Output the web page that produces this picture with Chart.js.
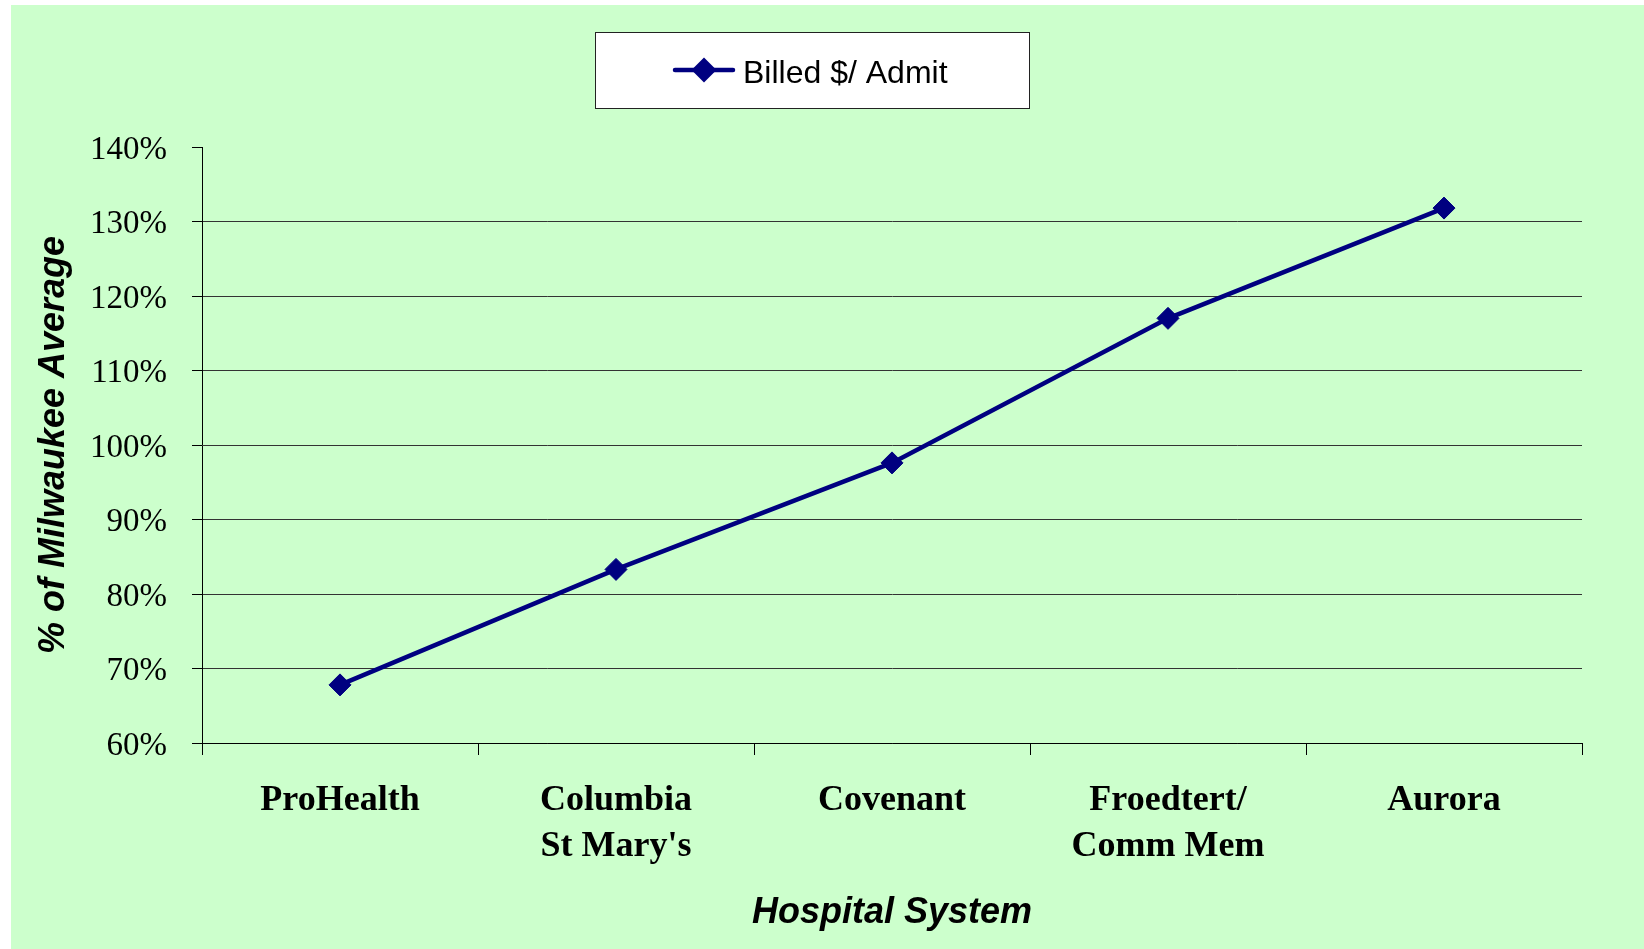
<!DOCTYPE html>
<html>
<head>
<meta charset="utf-8">
<script src="https://cdn.jsdelivr.net/npm/chart.js@4/dist/chart.umd.min.js"></script>
<style>
  html, body { margin: 0; padding: 0; background: #ffffff; }
  #wrap { width: 1644px; height: 949px; }
</style>
</head>
<body>
<div id="wrap"><canvas id="c" width="1644" height="949"></canvas></div>
<script>
// ---- data ----
const categories = ['ProHealth', ['Columbia', "St Mary's"], 'Covenant', ['Froedtert/', 'Comm Mem'], 'Aurora'];
const seriesLabel = 'Billed $/ Admit';
const billedPerAdmit = [67.8, 83.3, 97.6, 117.0, 131.8];
const yMin = 60, yMax = 140, yStep = 10;
const yAxisTitle = '% of Milwaukee Average';
const xAxisTitle = 'Hospital System';

const NAVY = '#000080';
const GREEN = '#CCFFCC';

const bgPlugin = {
  id: 'bg',
  beforeDraw(chart) {
    const ctx = chart.ctx;
    ctx.save();
    ctx.fillStyle = '#ffffff';
    ctx.fillRect(0, 0, chart.width, chart.height);
    ctx.fillStyle = GREEN;
    ctx.fillRect(11, 5, chart.width - 11, chart.height - 5);
    ctx.restore();
  }
};

const boxLegend = {
  id: 'boxLegend',
  afterDraw(chart) {
    const ctx = chart.ctx;
    const ds = chart.data.datasets[0];
    const bx = 595, by = 32, bw = 434, bh = 76;
    ctx.save();
    ctx.fillStyle = '#ffffff';
    ctx.fillRect(bx, by, bw, bh);
    ctx.strokeStyle = '#222222';
    ctx.lineWidth = 1;
    ctx.strokeRect(bx + 0.5, by + 0.5, bw, bh);
    const cy = by + bh / 2;
    ctx.strokeStyle = ds.borderColor;
    ctx.lineWidth = 4.5;
    ctx.lineCap = 'round';
    ctx.beginPath();
    ctx.moveTo(675, cy);
    ctx.lineTo(733, cy);
    ctx.stroke();
    const r = 12.5, cx = 704;
    ctx.fillStyle = ds.pointBackgroundColor;
    ctx.beginPath();
    ctx.moveTo(cx, cy - r);
    ctx.lineTo(cx + r, cy);
    ctx.lineTo(cx, cy + r);
    ctx.lineTo(cx - r, cy);
    ctx.closePath();
    ctx.fill();
    ctx.fillStyle = '#000000';
    ctx.font = '32px "Liberation Sans", Arial, sans-serif';
    ctx.textAlign = 'left';
    ctx.textBaseline = 'middle';
    ctx.fillText(ds.label, 743, cy + 4);
    ctx.restore();
  }
};

new Chart(document.getElementById('c'), {
  type: 'line',
  data: {
    labels: categories,
    datasets: [{
      label: seriesLabel,
      data: billedPerAdmit,
      borderColor: NAVY,
      backgroundColor: NAVY,
      pointBackgroundColor: NAVY,
      pointBorderColor: NAVY,
      borderWidth: 4.5,
      pointStyle: 'rectRot',
      pointRadius: 11,
      pointBorderWidth: 1,
      pointHoverRadius: 11,
      tension: 0,
      fill: false
    }]
  },
  options: {
    responsive: false,
    animation: false,
    events: [],
    layout: { padding: { top: 147, right: 62, left: 0, bottom: 0 } },
    plugins: {
      legend: { display: false },
      title: { display: false },
      tooltip: { enabled: false }
    },
    scales: {
      x: {
        type: 'category',
        offset: true,
        grid: {
          offset: true,
          drawOnChartArea: false,
          drawTicks: true,
          tickLength: 12,
          tickColor: '#000000',
          tickWidth: 1
        },
        border: { display: true, color: '#000000', width: 1 },
        ticks: {
          color: '#000000',
          padding: 23,
          maxRotation: 0,
          autoSkip: false,
          font: { family: '"Liberation Serif", "Times New Roman", serif', size: 36, weight: 'bold', lineHeight: 1.28 }
        },
        title: {
          display: true,
          text: xAxisTitle,
          color: '#000000',
          padding: { top: 0, bottom: 14 },
          font: { family: '"Liberation Sans", Arial, sans-serif', size: 36, weight: 'bold', style: 'italic', lineHeight: 1.2 }
        },
        afterFit(scale) { scale.height = 206; }
      },
      y: {
        min: yMin,
        max: yMax,
        grid: {
          drawTicks: true,
          tickLength: 10,
          tickColor: '#000000',
          color: (c) => (c.tick && c.tick.value === yMax) ? 'rgba(0,0,0,0)' : '#333333',
          lineWidth: 1
        },
        border: { display: true, color: '#000000', width: 1 },
        ticks: {
          stepSize: yStep,
          color: '#000000',
          padding: 25,
          labelOffset: 3,
          callback: (v) => v + '%',
          font: { family: '"Liberation Serif", "Times New Roman", serif', size: 33 }
        },
        title: {
          display: true,
          text: yAxisTitle,
          color: '#000000',
          padding: { top: 32, bottom: 0 },
          font: { family: '"Liberation Sans", Arial, sans-serif', size: 36, weight: 'bold', style: 'italic', lineHeight: 1.2 }
        },
        afterFit(scale) { scale.width = 202; }
      }
    }
  },
  plugins: [bgPlugin, boxLegend]
});
</script>
</body>
</html>
